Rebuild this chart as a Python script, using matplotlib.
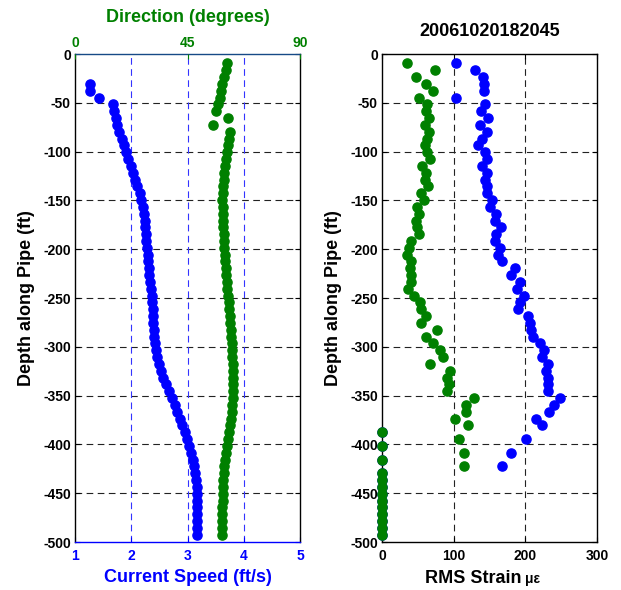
import numpy as np
import matplotlib
matplotlib.use("Agg")
import matplotlib.pyplot as plt

plt.rcParams['font.family'] = ['Liberation Sans', 'DejaVu Sans']
plt.rcParams['font.weight'] = 'bold'
plt.rcParams['axes.unicode_minus'] = False

# Sensor depths along the pipe (ft)
depth = [-9.6, -16.6, -23.6, -30.6, -37.6, -44.6, -51.6, -58.6, -65.6, -72.6,
         -79.6, -86.6, -93.6, -100.6, -107.6, -114.6, -121.6, -128.6, -135.6, -142.6,
         -149.6, -156.6, -163.6, -170.6, -177.6, -184.6, -191.6, -198.6, -205.6, -212.6,
         -219.6, -226.6, -233.6, -240.6, -247.6, -254.6, -261.6, -268.6, -275.6, -282.6,
         -289.6, -296.6, -303.6, -310.6, -317.6, -324.6, -331.6, -338.6, -345.6, -352.6,
         -359.6, -366.6, -373.6, -380.6, -387.6, -394.6, -401.6, -408.6, -415.6, -422.6,
         -429.6, -436.6, -443.6, -450.6, -457.6, -464.6, -471.6, -478.6, -485.6, -492.6]

# Current speed (ft/s); nan where below the plotted range
current_speed = [np.nan, np.nan, np.nan, 1.27, 1.27, 1.42, 1.68, 1.70, 1.72, 1.74,
                 1.78, 1.83, 1.87, 1.91, 1.95, 1.99, 2.03, 2.06, 2.11, 2.15,
                 2.18, 2.20, 2.22, 2.24, 2.25, 2.26, 2.27, 2.28, 2.29, 2.30,
                 2.31, 2.32, 2.33, 2.35, 2.36, 2.37, 2.38, 2.38, 2.39, 2.40,
                 2.41, 2.42, 2.44, 2.46, 2.49, 2.53, 2.57, 2.62, 2.67, 2.72,
                 2.77, 2.82, 2.87, 2.91, 2.95, 2.99, 3.03, 3.07, 3.10, 3.12,
                 3.14, 3.15, 3.16, 3.16, 3.17, 3.17, 3.17, 3.17, 3.17, 3.17]

# Current direction (degrees)
current_dir = [60.9, 60.2, 59.5, 58.9, 58.4, 57.8, 57.0, 56.2, 61.0, 55.2,
               61.8, 61.5, 61.1, 60.8, 60.5, 60.1, 59.7, 59.4, 59.2, 59.0,
               58.9, 59.0, 59.1, 59.2, 59.3, 59.4, 59.5, 59.7, 59.9, 60.1,
               60.3, 60.4, 60.6, 60.7, 61.1, 61.4, 61.6, 61.9, 62.1, 62.3,
               62.5, 62.7, 62.8, 62.9, 63.0, 63.1, 63.1, 63.2, 63.1, 63.0,
               62.8, 62.6, 62.3, 62.0, 61.5, 61.0, 60.6, 60.2, 59.9, 59.6,
               59.4, 59.3, 59.2, 59.1, 59.0, 58.9, 58.8, 58.7, 58.7, 58.7]

# RMS strain (microstrain), two fibre channels
strain_blue = [103, 130, 141, 142, 142, 103, 144, 138, 148, 137,
               146, 139.5, 134, 144, 147, 140, 146, 144, 147, 147,
               153, 151, 159, 157, 166, 159, 158, 164, 162, 168,
               186, 180, 193, 188, 198, 192, 190, 204, 206, 207.5,
               211, 220, 226, 223, 231, 229, 232, 232, 232, 248,
               240.5, 233, 214.5, 223, 0, 200.5, 0, 180, 0, 168,
               0, 0, 0, 0, 0, 0, 0, 0, 0, 0]

strain_green = [35, 74, 48, 61, 71, 51, 63, 61, 65, 60,
                65, 63, 60, 63, 67, 56, 62, 60, 64, 55,
                58, 49.5, 51, 48, 49.5, 52, 41, 38, 35.5, 40,
                39, 40, 41, 36, 44, 53, 55, 62, 55, 77,
                62, 71, 81, 85, 67, 95, 90, 94, 91, 129,
                117, 117, 102, 120, 0, 108, 0, 114, 0, 115,
                0, 0, 0, 0, 0, 0, 0, 0, 0, 0]

speed_ticks = [1, 2, 3, 4, 5]
dir_ticks = [0, 45, 90]
strain_ticks = [0, 100, 200, 300]
depth_ticks = list(range(0, -501, -50))
stamp = "20061020182045"

BLUE = "#0000ff"
GREEN = "#008000"
W, H = 621, 590
TICK_FS = 10
LABEL_FS = 13
MS = 6.6

fig = plt.figure(figsize=(W / 100, H / 100), dpi=100)
fig.patch.set_facecolor("white")

ax1 = fig.add_axes([75 / W, 48 / H, 225 / W, 488 / H])
ax2 = fig.add_axes([382 / W, 48 / H, 215 / W, 488 / H])

dash = (0, (6, 4))


def style_depth_axis(ax):
    ax.set_ylim(-500, 0)
    ax.set_yticks(depth_ticks)
    ax.set_yticklabels([str(v) for v in depth_ticks], fontsize=TICK_FS, fontweight='bold')
    ax.set_ylabel("Depth along Pipe (ft)", fontsize=LABEL_FS, fontweight='bold', labelpad=6)
    ax.tick_params(axis='y', direction='in', length=3.5, width=0.8, left=True, right=True, pad=3)
    for v in depth_ticks[1:-1]:
        ax.axhline(v, color="#222222", lw=0.8, ls=dash, zorder=1)


# ---- left panel: current speed and direction ----
style_depth_axis(ax1)
ax1.set_xlim(1, 5)
ax1.set_xticks(speed_ticks)
ax1.set_xticklabels([str(v) for v in speed_ticks], fontsize=TICK_FS, fontweight='bold', color=BLUE)
ax1.tick_params(axis='x', direction='in', length=3.5, width=0.8, bottom=True, top=False,
                colors=BLUE, pad=5)
ax1.set_xlabel("Current Speed (ft/s)", fontsize=LABEL_FS, fontweight='bold', color=BLUE, labelpad=4)
for v in speed_ticks[1:-1]:
    ax1.axvline(v, color="#3333ff", lw=0.8, ls=dash, zorder=1)
ax1.plot(current_speed, depth, 'o', color=BLUE, ms=MS, mec=BLUE, clip_on=False, zorder=3)
ax1.spines['bottom'].set_color(BLUE)
ax1.spines['left'].set_color("black")
ax1.spines['right'].set_color("black")
ax1.spines['top'].set_color("#164a86")
for s in ax1.spines.values():
    s.set_linewidth(1.0)

axd = ax1.twiny()
axd.set_xlim(0, 90)
axd.set_xticks(dir_ticks)
axd.set_xticklabels([str(v) for v in dir_ticks], fontsize=TICK_FS, fontweight='bold', color=GREEN)
axd.tick_params(axis='x', direction='in', length=3.5, width=0.8, colors=GREEN, pad=3)
axd.set_xlabel("Direction (degrees)", fontsize=LABEL_FS, fontweight='bold', color=GREEN, labelpad=10)
axd.plot(current_dir, depth, 'o', color=GREEN, ms=MS, mec=GREEN, clip_on=False, zorder=3)
for s in axd.spines.values():
    s.set_visible(False)

# ---- right panel: RMS strain ----
style_depth_axis(ax2)
ax2.set_xlim(0, 300)
ax2.set_xticks(strain_ticks)
ax2.set_xticklabels([str(v) for v in strain_ticks], fontsize=TICK_FS, fontweight='bold')
ax2.tick_params(axis='x', direction='in', length=3.5, width=0.8, bottom=True, top=True, pad=5)
for v in strain_ticks[1:-1]:
    ax2.axvline(v, color="#222222", lw=0.8, ls=dash, zorder=1)
ax2.plot(strain_blue, depth, 'o', color=BLUE, ms=MS, mec=BLUE, clip_on=False, zorder=3)
ax2.plot(strain_green, depth, 'o', color=GREEN, ms=MS, mec=GREEN, clip_on=False, zorder=4)
for s in ax2.spines.values():
    s.set_linewidth(1.0)
    s.set_color("black")
ax2.set_title(stamp, fontsize=LABEL_FS, fontweight='bold', pad=13)

lab = fig.text(425 / W, (H - 583) / H, "RMS Strain", fontsize=LABEL_FS, fontweight='bold',
               ha='left', va='baseline')
fig.canvas.draw()
bb = lab.get_window_extent()
fig.text((bb.x1 + 3) / W, (H - 583) / H, "με", fontsize=10, fontweight='bold',
         ha='left', va='baseline')

fig.savefig("out.png", dpi=100, facecolor="white")
